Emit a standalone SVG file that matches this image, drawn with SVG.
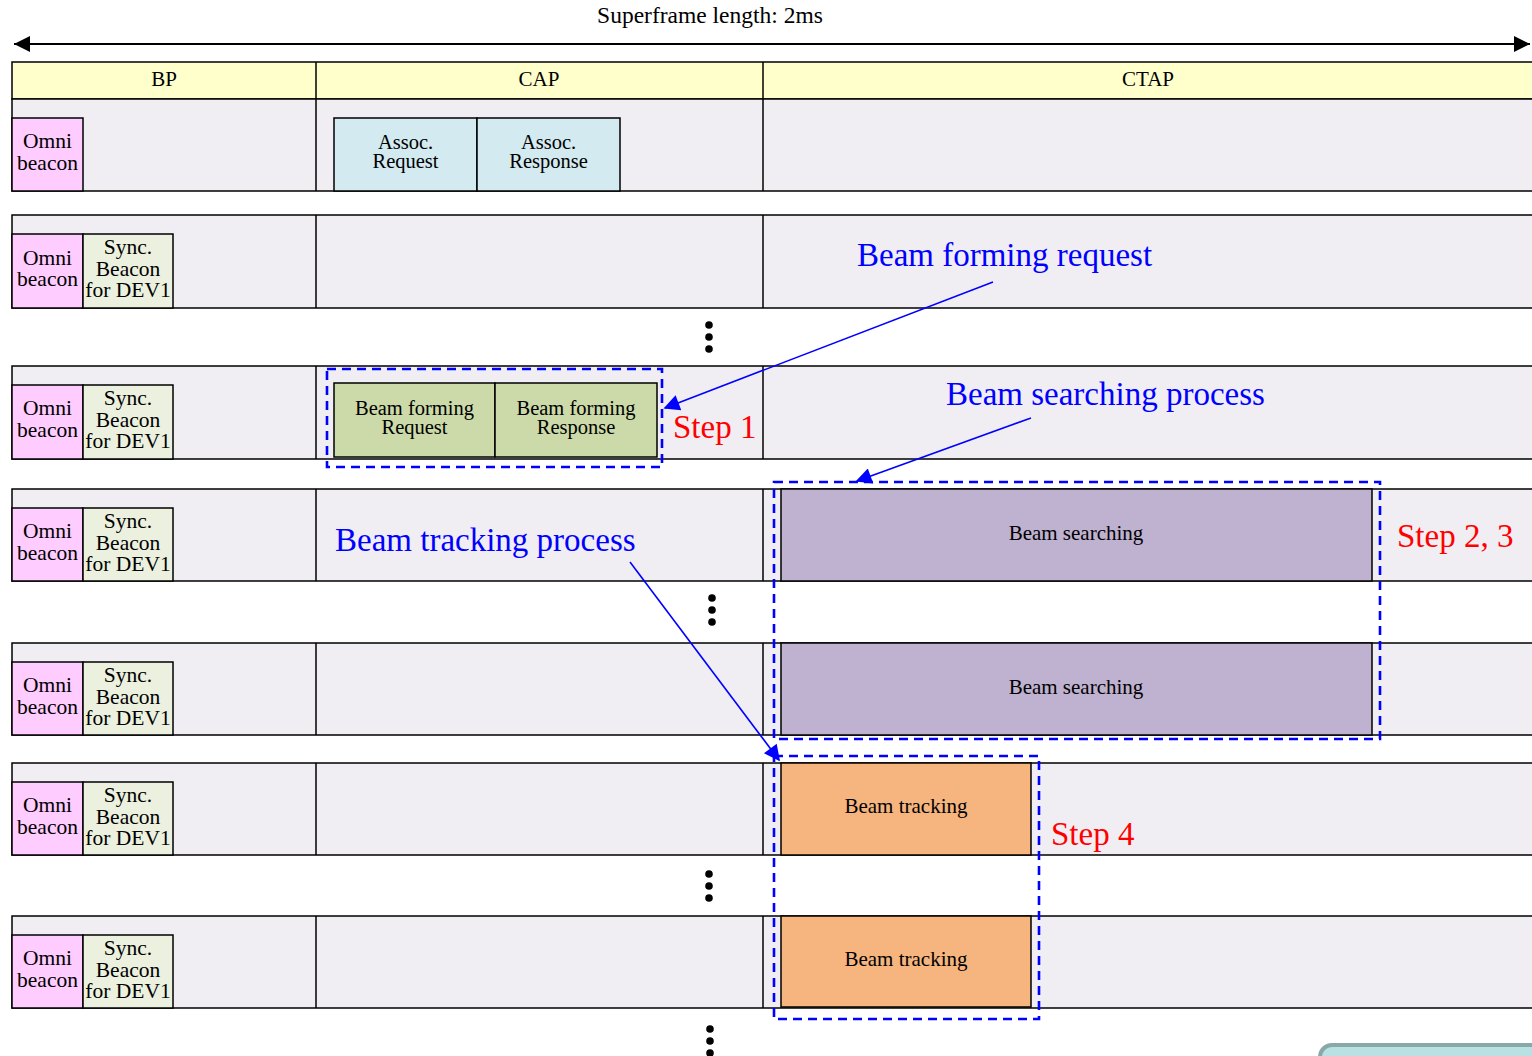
<svg xmlns="http://www.w3.org/2000/svg" width="1532" height="1056" viewBox="0 0 1532 1056">
<defs>
<style>
text{font-family:"Liberation Serif","Times New Roman",serif;}
.row{fill:#f0eef3;stroke:#000;stroke-width:1.5;}
.hdr{fill:#ffffcc;stroke:#000;stroke-width:1.5;}
.div{stroke:#000;stroke-width:1.5;}
.omni{fill:#ffccff;stroke:#000;stroke-width:1.5;}
.sync{fill:#ebf1de;stroke:#000;stroke-width:1.5;}
.assoc{fill:#d2eaf0;stroke:#000;stroke-width:1.5;}
.bf{fill:#cbdaa8;stroke:#000;stroke-width:1.5;}
.bs{fill:#bfb1d0;stroke:#000;stroke-width:1.5;}
.bt{fill:#f6b57e;stroke:#000;stroke-width:1.5;}
.t21{font-size:21px;fill:#000;text-anchor:middle;}
.t2l{font-size:20.5px;fill:#000;text-anchor:middle;}
.t22{font-size:21.5px;fill:#000;text-anchor:middle;}
.blue{font-size:33px;fill:#0000ff;}
.red{font-size:33px;fill:#ff0000;}
.dash{fill:none;stroke:#0000ff;stroke-width:2.6;stroke-dasharray:9,6;}
.conn{stroke:#0000ff;stroke-width:1.6;fill:none;marker-end:url(#ab);}
.dot{fill:#000;}
</style>
<marker id="ab" viewBox="0 0 10 10" refX="9" refY="5" markerWidth="18" markerHeight="16" markerUnits="userSpaceOnUse" orient="auto"><path d="M0,0 L10,5 L0,10 Z" fill="#0000ff"/></marker>
<marker id="ak" viewBox="0 0 10 10" refX="10" refY="5" markerWidth="22" markerHeight="16" markerUnits="userSpaceOnUse" orient="auto-start-reverse"><path d="M0,0 L10,5 L0,10 Z" fill="#000"/></marker>
</defs>

<g id="title">
<text x="710" y="23" class="t21" style="font-size:23.5px">Superframe length: 2ms</text>
<line x1="14" y1="44" x2="1530" y2="44" stroke="#000" stroke-width="2" marker-start="url(#ak)" marker-end="url(#ak)"/>
</g>

<g id="header">
<rect x="12" y="62" width="1530" height="37" class="hdr"/>
<line x1="316" y1="62" x2="316" y2="99" class="div"/>
<line x1="763" y1="62" x2="763" y2="99" class="div"/>
<text x="164" y="86" class="t21">BP</text>
<text x="539" y="86" class="t21">CAP</text>
<text x="1148" y="86" class="t21">CTAP</text>
</g>

<g id="row1">
<rect x="12" y="99" width="1530" height="92" class="row"/>
<line x1="316" y1="99" x2="316" y2="191" class="div"/>
<line x1="763" y1="99" x2="763" y2="191" class="div"/>
<rect x="12" y="118" width="71" height="73" class="omni"/>
<text x="47.5" y="148" class="t22">Omni</text><text x="47.5" y="170" class="t22">beacon</text>
<rect x="334" y="118" width="143" height="73" class="assoc"/>
<text x="405.5" y="149" class="t2l">Assoc.</text><text x="405.5" y="168" class="t2l">Request</text>
<rect x="477" y="118" width="143" height="73" class="assoc"/>
<text x="548.5" y="149" class="t2l">Assoc.</text><text x="548.5" y="168" class="t2l">Response</text>
</g>

<g id="row2">
<rect x="12" y="215" width="1530" height="93" class="row"/>
<line x1="316" y1="215" x2="316" y2="308" class="div"/>
<line x1="763" y1="215" x2="763" y2="308" class="div"/>
<rect x="12" y="234" width="71" height="74" class="omni"/>
<text x="47.5" y="265" class="t22">Omni</text><text x="47.5" y="286" class="t22">beacon</text>
<rect x="83" y="234" width="90" height="74" class="sync"/>
<text x="128" y="254" class="t22">Sync.</text><text x="128" y="276" class="t22">Beacon</text><text x="128" y="297" class="t22">for DEV1</text>
</g>

<g id="row3">
<rect x="12" y="366" width="1530" height="93" class="row"/>
<line x1="316" y1="366" x2="316" y2="459" class="div"/>
<line x1="763" y1="366" x2="763" y2="459" class="div"/>
<rect x="12" y="385" width="71" height="74" class="omni"/>
<text x="47.5" y="415" class="t22">Omni</text><text x="47.5" y="437" class="t22">beacon</text>
<rect x="83" y="385" width="90" height="74" class="sync"/>
<text x="128" y="405" class="t22">Sync.</text><text x="128" y="427" class="t22">Beacon</text><text x="128" y="448" class="t22">for DEV1</text>
<rect x="334" y="383" width="161" height="74" class="bf"/>
<text x="414.5" y="415" class="t2l">Beam forming</text><text x="414.5" y="434" class="t2l">Request</text>
<rect x="495" y="383" width="162" height="74" class="bf"/>
<text x="576" y="415" class="t2l">Beam forming</text><text x="576" y="434" class="t2l">Response</text>
</g>

<g id="row4">
<rect x="12" y="489" width="1530" height="92" class="row"/>
<line x1="316" y1="489" x2="316" y2="581" class="div"/>
<line x1="763" y1="489" x2="763" y2="581" class="div"/>
<rect x="12" y="508" width="71" height="73" class="omni"/>
<text x="47.5" y="538" class="t22">Omni</text><text x="47.5" y="560" class="t22">beacon</text>
<rect x="83" y="508" width="90" height="73" class="sync"/>
<text x="128" y="528" class="t22">Sync.</text><text x="128" y="550" class="t22">Beacon</text><text x="128" y="571" class="t22">for DEV1</text>
<rect x="781" y="489" width="591" height="92" class="bs"/>
<text x="1076" y="540" class="t21">Beam searching</text>
</g>

<g id="row5">
<rect x="12" y="643" width="1530" height="92" class="row"/>
<line x1="316" y1="643" x2="316" y2="735" class="div"/>
<line x1="763" y1="643" x2="763" y2="735" class="div"/>
<rect x="12" y="662" width="71" height="73" class="omni"/>
<text x="47.5" y="692" class="t22">Omni</text><text x="47.5" y="714" class="t22">beacon</text>
<rect x="83" y="662" width="90" height="73" class="sync"/>
<text x="128" y="682" class="t22">Sync.</text><text x="128" y="704" class="t22">Beacon</text><text x="128" y="725" class="t22">for DEV1</text>
<rect x="781" y="643" width="591" height="92" class="bs"/>
<text x="1076" y="694" class="t21">Beam searching</text>
</g>

<g id="row6">
<rect x="12" y="763" width="1530" height="92" class="row"/>
<line x1="316" y1="763" x2="316" y2="855" class="div"/>
<line x1="763" y1="763" x2="763" y2="855" class="div"/>
<rect x="12" y="782" width="71" height="73" class="omni"/>
<text x="47.5" y="812" class="t22">Omni</text><text x="47.5" y="834" class="t22">beacon</text>
<rect x="83" y="782" width="90" height="73" class="sync"/>
<text x="128" y="802" class="t22">Sync.</text><text x="128" y="824" class="t22">Beacon</text><text x="128" y="845" class="t22">for DEV1</text>
<rect x="781" y="763" width="250" height="92" class="bt"/>
<text x="906" y="813" class="t21">Beam tracking</text>
</g>

<g id="row7">
<rect x="12" y="916" width="1530" height="92" class="row"/>
<line x1="316" y1="916" x2="316" y2="1008" class="div"/>
<line x1="763" y1="916" x2="763" y2="1008" class="div"/>
<rect x="12" y="935" width="71" height="73" class="omni"/>
<text x="47.5" y="965" class="t22">Omni</text><text x="47.5" y="987" class="t22">beacon</text>
<rect x="83" y="935" width="90" height="73" class="sync"/>
<text x="128" y="955" class="t22">Sync.</text><text x="128" y="977" class="t22">Beacon</text><text x="128" y="998" class="t22">for DEV1</text>
<rect x="781" y="916" width="250" height="91" class="bt"/>
<text x="906" y="966" class="t21">Beam tracking</text>
</g>

<g id="ellipses">
<circle cx="709" cy="325" r="3.8" class="dot"/><circle cx="709" cy="337" r="3.8" class="dot"/><circle cx="709" cy="349" r="3.8" class="dot"/>
<circle cx="712" cy="598" r="3.8" class="dot"/><circle cx="712" cy="610" r="3.8" class="dot"/><circle cx="712" cy="622" r="3.8" class="dot"/>
<circle cx="709" cy="874" r="3.8" class="dot"/><circle cx="709" cy="886" r="3.8" class="dot"/><circle cx="709" cy="898" r="3.8" class="dot"/>
<circle cx="710" cy="1029" r="3.8" class="dot"/><circle cx="710" cy="1041" r="3.8" class="dot"/><circle cx="710" cy="1053" r="3.8" class="dot"/>
</g>

<g id="steps">
<rect x="327" y="369" width="335" height="98" class="dash"/>
<rect x="774" y="482" width="606" height="257" class="dash"/>
<rect x="774" y="756" width="265" height="263" class="dash"/>
<text x="673" y="438" class="red">Step 1</text>
<text x="1397" y="547" class="red">Step 2, 3</text>
<text x="1051" y="845" class="red">Step 4</text>
</g>

<g id="labels">
<text x="857" y="266" class="blue">Beam forming request</text>
<text x="946" y="405" class="blue">Beam searching process</text>
<text x="335" y="551" class="blue">Beam tracking process</text>
</g>

<g id="connectors">
<line x1="993" y1="282" x2="665" y2="408" class="conn"/>
<line x1="1031" y1="418" x2="857" y2="481" class="conn"/>
<line x1="630" y1="562" x2="779" y2="760" class="conn"/>
</g>

<g id="corner">
<rect x="1320" y="1045" width="240" height="60" rx="12" fill="#b9e0e2" stroke="#8aa8a8" stroke-width="4"/>
</g>
</svg>
